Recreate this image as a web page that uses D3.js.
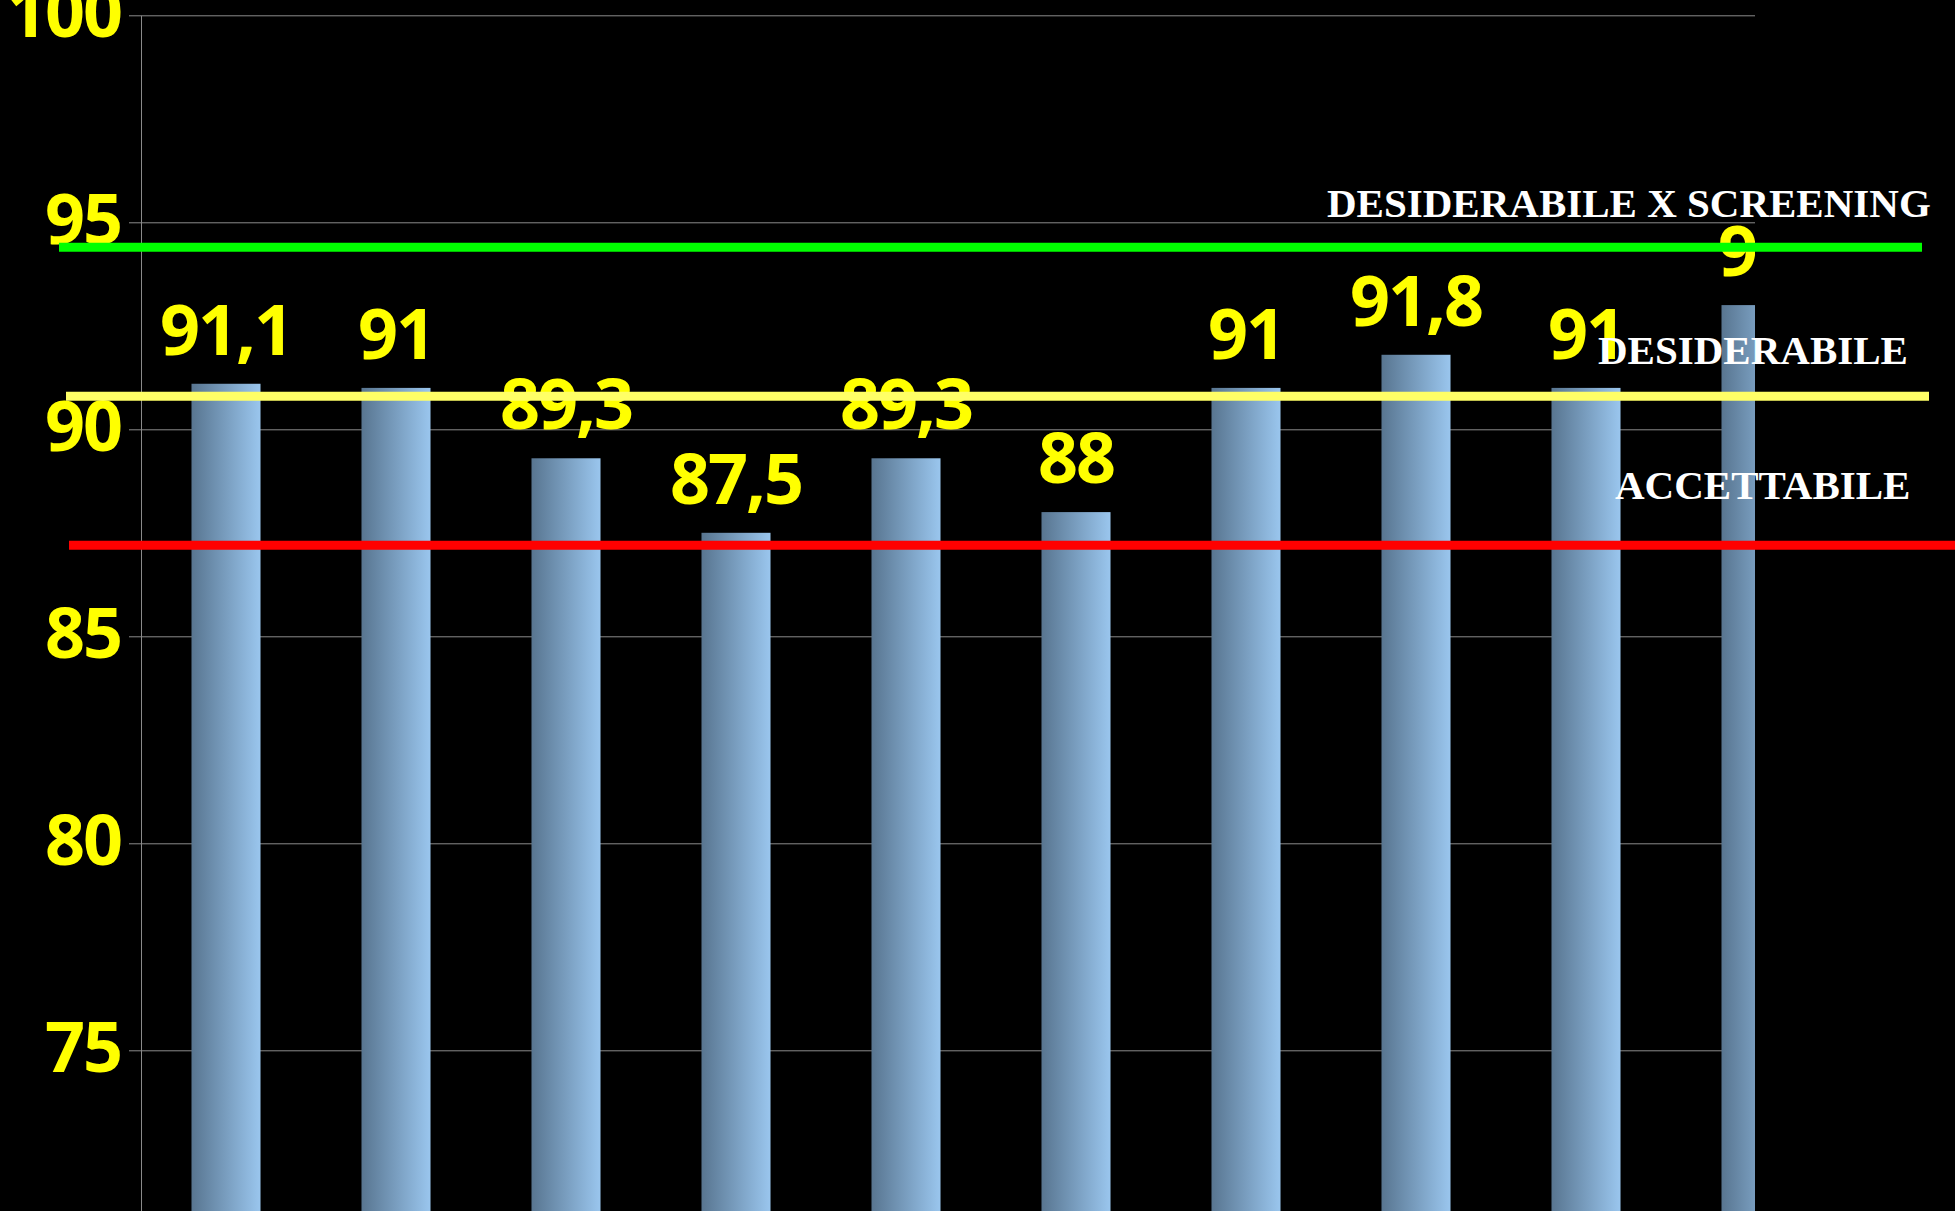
<!DOCTYPE html>
<html>
<head>
<meta charset="utf-8">
<script src="https://cdn.jsdelivr.net/npm/d3@7"></script>
<style>
  html, body { margin: 0; padding: 0; background: #000; overflow: hidden; }
  svg { display: block; }
</style>
</head>
<body>
<svg id="chart" width="1955" height="1211"></svg>
<script>
// Series: yearly values shown as vertical bars
const categories = ["1", "2", "3", "4", "5", "6", "7", "8", "9", "10"];
const values = [91.1, 91, 89.3, 87.5, 89.3, 88, 91, 91.8, 91, 93];

// Y axis ticks
const yTicks = [70, 75, 80, 85, 90, 95, 100];

// Reference thresholds drawn as horizontal lines with captions
const thresholdNames = ["DESIDERABILE X SCREENING", "DESIDERABILE", "ACCETTABILE"];
const thresholdValues = [94.4, 90.8, 87.2];
const thresholdColors = ["#00ff00", "#ffff66", "#ff0000"];

// Layout
const W = 1955, H = 1211;
const plotLeft = 141, plotRight = 1755;
const yTop = 15.3, yBottom = 1257.3;

const svg = d3.select("#chart");
svg.append("rect").attr("width", W).attr("height", H).attr("fill", "#000");

const y = d3.scaleLinear().domain([70, 100]).range([yBottom, yTop]);
const x = d3.scaleBand()
  .domain(categories)
  .range([plotLeft, plotLeft + categories.length * 170])
  .paddingInner(0.594)
  .paddingOuter(0.297);

const fmt = v => String(v).replace(".", ",");

// Bar gradient (dark left, light right)
const defs = svg.append("defs");
const grad = defs.append("linearGradient").attr("id", "barGrad")
  .attr("x1", "0%").attr("x2", "100%").attr("y1", "0%").attr("y2", "0%");
grad.append("stop").attr("offset", "0%").attr("stop-color", "#587590");
grad.append("stop").attr("offset", "100%").attr("stop-color", "#9ac6ee");

defs.append("clipPath").attr("id", "plotClip")
  .append("rect").attr("x", plotLeft).attr("y", -50)
  .attr("width", plotRight - plotLeft).attr("height", yBottom + 100);

// Gridlines
svg.append("g")
  .attr("transform", `translate(${plotLeft},0)`)
  .call(d3.axisLeft(y).tickValues(yTicks).tickSize(-(plotRight - plotLeft)).tickFormat(""))
  .call(g => g.select(".domain").remove())
  .call(g => g.selectAll(".tick line").attr("stroke", "#8a8a8a").attr("stroke-width", 1));

// Y axis with tick labels
svg.append("g")
  .attr("transform", `translate(${plotLeft},0)`)
  .call(d3.axisLeft(y).tickValues(yTicks).tickSize(12).tickSizeOuter(0).tickPadding(8)
    .tickFormat(d3.format("d")))
  .call(g => g.select(".domain").attr("stroke", "#8a8a8a"))
  .call(g => g.selectAll(".tick line").attr("stroke", "#8a8a8a"))
  .call(g => g.selectAll(".tick text")
    .attr("fill", "#ffff00")
    .attr("font-family", "'Open Sans', sans-serif")
    .attr("font-weight", 700)
    .attr("font-size", 70)
    .attr("letter-spacing", -2)
    .attr("dy", "0.3em"));

// Bars and value labels, clipped to the plot area
const plot = svg.append("g").attr("clip-path", "url(#plotClip)");

plot.selectAll("rect.bar")
  .data(values)
  .join("rect")
  .attr("class", "bar")
  .attr("x", (d, i) => x(categories[i]))
  .attr("width", x.bandwidth())
  .attr("y", d => y(d))
  .attr("height", d => y(70) - y(d))
  .attr("fill", "url(#barGrad)");

plot.selectAll("text.val")
  .data(values)
  .join("text")
  .attr("class", "val")
  .attr("x", (d, i) => x(categories[i]) + x.bandwidth() / 2)
  .attr("y", d => y(d) - 29)
  .attr("text-anchor", "middle")
  .attr("fill", "#ffff00")
  .attr("font-family", "'Open Sans', sans-serif")
  .attr("font-weight", 700)
  .attr("font-size", 70)
  .attr("letter-spacing", -2)
  .text(d => fmt(d));

// Threshold captions
const captionPos = [
  { x: 1327, dy: -30 },
  { x: 1598, dy: -32 },
  { x: 1615, dy: -46 }
];
svg.selectAll("text.cap")
  .data(thresholdNames)
  .join("text")
  .attr("class", "cap")
  .attr("x", (d, i) => captionPos[i].x)
  .attr("y", (d, i) => y(thresholdValues[i]) + captionPos[i].dy)
  .attr("fill", "#ffffff")
  .attr("font-family", "'Liberation Serif', 'Times New Roman', serif")
  .attr("font-weight", 700)
  .attr("font-size", 41)
  .text(d => d);

// Threshold lines
const lineExtent = [[59, 1922], [66, 1929], [69, 1960]];
svg.selectAll("line.thr")
  .data(thresholdValues)
  .join("line")
  .attr("class", "thr")
  .attr("x1", (d, i) => lineExtent[i][0])
  .attr("x2", (d, i) => lineExtent[i][1])
  .attr("y1", d => y(d))
  .attr("y2", d => y(d))
  .attr("stroke", (d, i) => thresholdColors[i])
  .attr("stroke-width", 9);
</script>
</body>
</html>
